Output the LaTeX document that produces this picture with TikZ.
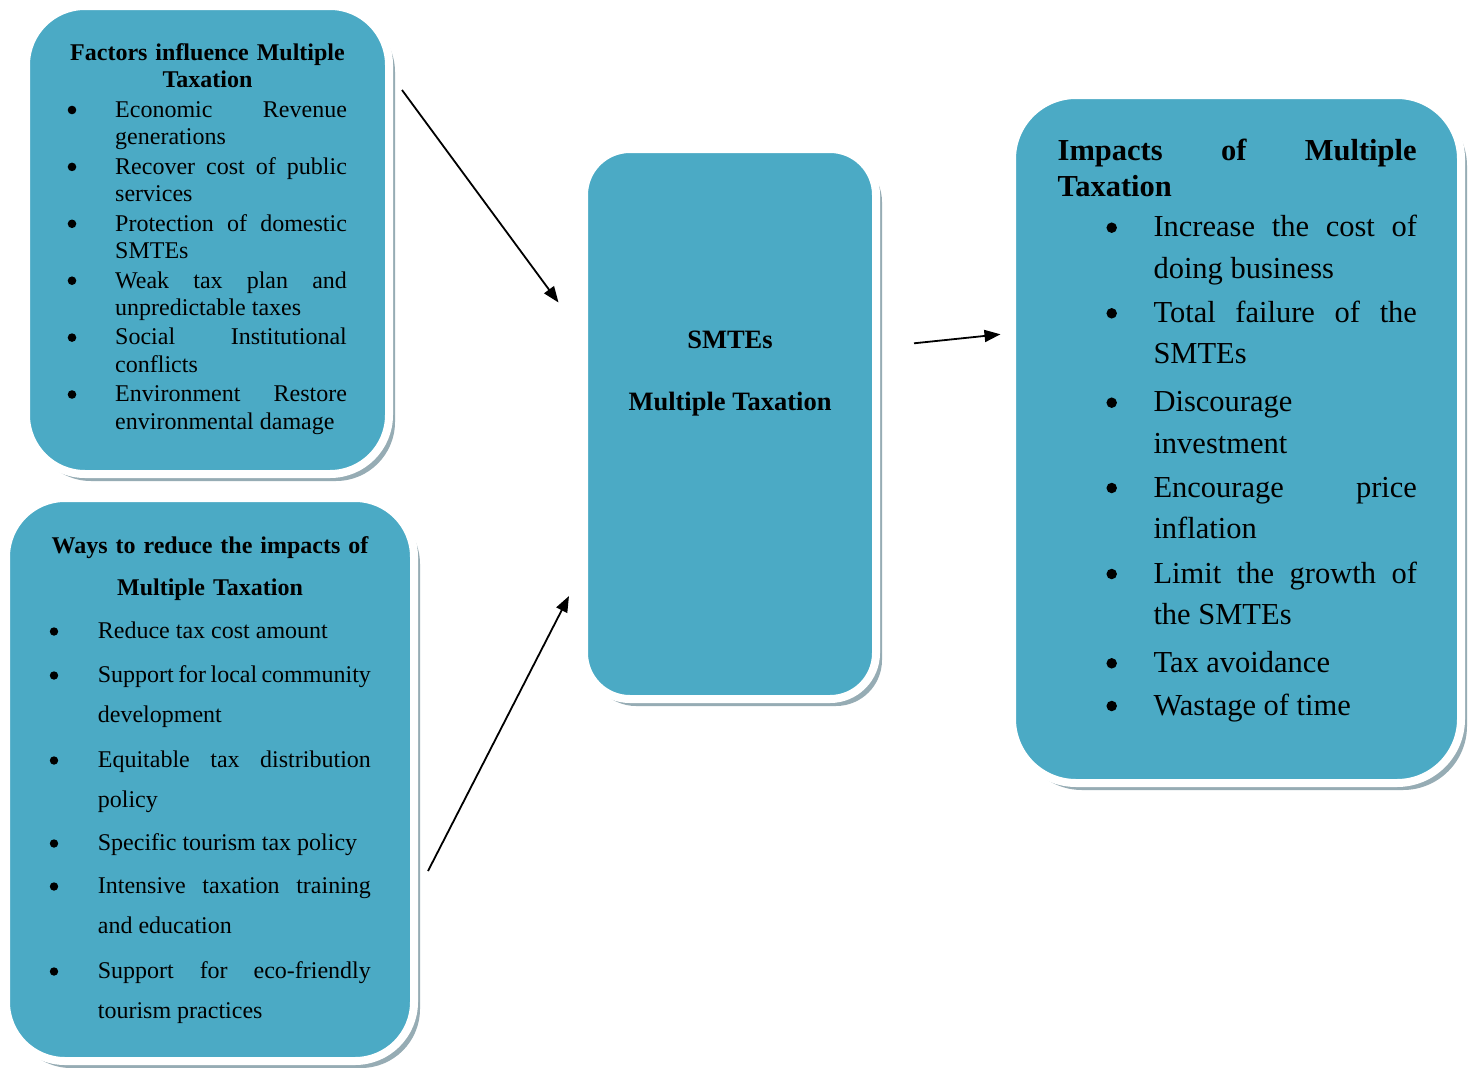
\documentclass[tikz,border=0pt]{standalone}
\usepackage{fontspec}
\setmainfont{Liberation Serif}
\usetikzlibrary{arrows.meta,shadows}
\definecolor{tealfill}{RGB}{75,170,197}
\definecolor{shadegray}{RGB}{150,172,180}
\tolerance=10000
\hyphenpenalty=10000
\hbadness=10000
\tikzset{
  panel/.style={rectangle, draw=white, line width=8pt, fill=tealfill, inner sep=0pt,
    drop shadow={shadow xshift=6pt, shadow yshift=-7pt, fill=shadegray, opacity=1}},
  bodytxt/.style={anchor=base west, inner sep=0pt, align=justify},
  headtxt/.style={anchor=base, inner sep=0pt, align=center},
  dotA/.style={circle, fill=black, inner sep=0pt, minimum size=8.6pt},
  dotB/.style={circle, fill=black, inner sep=0pt, minimum size=8.4pt},
  dotC/.style={circle, fill=black, inner sep=0pt, minimum size=10.5pt},
  arr/.style={line width=1.8pt, -{Triangle[length=16pt,width=12pt]}},
  fsmall/.style={font=\fontsize{24}{27.4}\selectfont},
  fwide/.style={font=\fontsize{24}{40.7}\selectfont},
  fbig/.style={font=\fontsize{30.5}{41.5}\selectfont},
}
% #1 name, #2 dot style, #3 x of dot, #4 dot height above baseline,
% #5 x of text, #6 baseline, #7 text width, #8 text
\newcommand{\bitm}[8]{%
  \node[#2] (#1d) at (#3,{#6-#4}) {};
  \node[bodytxt, text width=#7pt] (#1) at (#5,#6) {#8};}
\begin{document}
\begin{tikzpicture}[x=1pt,y=-1pt]
\path[use as bounding box, fill=white] (0,0) rectangle (1478,1068);

% boxes
\node[panel, minimum width=363pt, minimum height=468pt, rounded corners=59pt] (box1) at (207.5,240) {};
\node[panel, minimum width=408pt, minimum height=563pt, rounded corners=59pt] (box2) at (210,779.5) {};
\node[panel, minimum width=292pt, minimum height=550pt, rounded corners=46pt] (box3) at (730,424) {};
\node[panel, minimum width=449pt, minimum height=688pt, rounded corners=64pt] (box4) at (1236.5,439) {};

% box 1 text
\node[headtxt, text width=330pt, font=\bfseries\fontsize{24}{26.6}\selectfont] (h1) at (207.5,60.7)
  {Factors influence Multiple\\Taxation};
\begin{scope}[every node/.append style={fsmall}]
\bitm{p1}{dotA}{72}{7.3}{115}{117.3}{231.7}{Economic Revenue\linebreak generations}
\bitm{p2}{dotA}{72}{7.3}{115}{174.2}{231.7}{Recover cost of public\linebreak services}
\bitm{p3}{dotA}{72}{7.3}{115}{231.1}{231.7}{Protection of domestic\linebreak SMTEs}
\bitm{p4}{dotA}{72}{7.3}{115}{288.0}{231.7}{Weak tax plan and\linebreak unpredictable taxes}
\bitm{p5}{dotA}{72}{7.3}{115}{344.9}{231.7}{Social Institutional\linebreak conflicts}
\bitm{p6}{dotA}{72}{7.3}{115}{401.8}{231.7}{Environment Restore\linebreak environmental damage}
\end{scope}

% box 2 text
\node[headtxt, text width=380pt, font=\bfseries\fontsize{24}{42}\selectfont] (h2) at (210,553)
  {Ways to reduce the impacts of\\Multiple Taxation};
\begin{scope}[every node/.append style={fwide}]
\bitm{q1}{dotB}{54}{6.5}{97.7}{638}{273}{Reduce tax cost amount}
\bitm{q2}{dotB}{54}{6.5}{97.7}{682}{273}{Support for local community\linebreak development}
\bitm{q3}{dotB}{54}{6.5}{97.7}{767}{273}{Equitable tax distribution\linebreak policy}
\bitm{q4}{dotB}{54}{6.5}{97.7}{850}{273}{Specific tourism tax policy}
\bitm{q5}{dotB}{54}{6.5}{97.7}{893}{273}{Intensive taxation training\linebreak and education}
\bitm{q6}{dotB}{54}{6.5}{97.7}{978}{273}{Support for eco-friendly\linebreak tourism practices}
\end{scope}

% box 3 text
\node[headtxt, font=\bfseries\fontsize{26.5}{30}\selectfont] (c1) at (730,348.3) {SMTEs};
\node[headtxt, font=\bfseries\fontsize{26.5}{30}\selectfont] (c2) at (730,410) {Multiple Taxation};

% box 4 text
\node[bodytxt, text width=359pt, font=\bfseries\fontsize{30.5}{36}\selectfont] (h4) at (1057.5,160.7)
  {Impacts of Multiple\linebreak Taxation};
\begin{scope}[every node/.append style={fbig}]
\bitm{r1}{dotC}{1111.7}{9}{1153.3}{236.7}{263.5}{Increase the cost of\linebreak doing business}
\bitm{r2}{dotC}{1111.7}{9}{1153.3}{322.3}{263.5}{Total failure of the\linebreak SMTEs}
\bitm{r3}{dotC}{1111.7}{9}{1153.3}{411.7}{263.5}{Discourage\\investment}
\bitm{r4}{dotC}{1111.7}{9}{1153.3}{497}{263.5}{Encourage price\linebreak inflation}
\bitm{r5}{dotC}{1111.7}{9}{1153.3}{583}{263.5}{Limit the growth of\linebreak the SMTEs}
\bitm{r6}{dotC}{1111.7}{9}{1153.3}{672.3}{263.5}{Tax avoidance}
\bitm{r7}{dotC}{1111.7}{9}{1153.3}{715}{263.5}{Wastage of time}
\end{scope}

% arrows
\coordinate (a1s) at (402,90);
\coordinate (a1e) at (558.5,302.5);
\coordinate (a2s) at (428,871);
\coordinate (a2e) at (569,596);
\coordinate (a3s) at (914,343.3);
\coordinate (a3e) at (1000.5,334.3);
\draw[arr] (a1s) -- (a1e);
\draw[arr] (a2s) -- (a2e);
\draw[arr] (a3s) -- (a3e);
\end{tikzpicture}
\end{document}
